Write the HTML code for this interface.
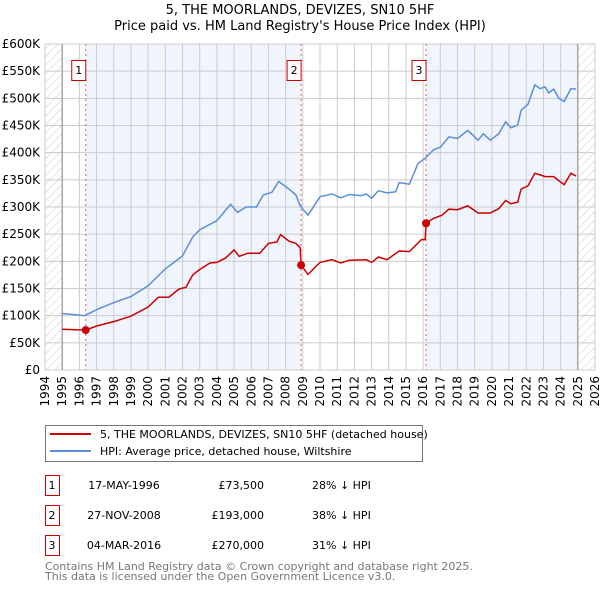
<!DOCTYPE html>
<html><head><meta charset="utf-8"><style>
body{margin:0;background:#fff;width:600px;height:590px;overflow:hidden}
text{font-family:"DejaVu Sans","Liberation Sans",sans-serif}
</style></head><body>
<svg width="600" height="590">
<defs><pattern id="hatch" width="6" height="6" patternUnits="userSpaceOnUse" patternTransform="rotate(45)"><line x1="0" y1="0" x2="0" y2="6" stroke="#ccc" stroke-width="1"/></pattern></defs>
<text x="300" y="14" text-anchor="middle" font-size="13">5, THE MOORLANDS, DEVIZES, SN10 5HF</text>
<text x="300" y="30" text-anchor="middle" font-size="13">Price paid vs. HM Land Registry's House Price Index (HPI)</text>
<g id="plot"></g>
<g id="legend">
<rect x="45.5" y="425.5" width="377" height="36" fill="#fff" stroke="#777"/>
<line x1="50" y1="434" x2="91" y2="434" stroke="#cc0000" stroke-width="2"/>
<text x="100" y="438" font-size="11">5, THE MOORLANDS, DEVIZES, SN10 5HF (detached house)</text>
<line x1="50" y1="451" x2="91" y2="451" stroke="#5b8fd6" stroke-width="2"/>
<text x="100" y="455" font-size="11">HPI: Average price, detached house, Wiltshire</text>
</g>
<g id="table" font-size="11"></g>
<text x="45" y="570" font-size="11" fill="#777">Contains HM Land Registry data © Crown copyright and database right 2025.</text>
<text x="45" y="580" font-size="11" fill="#777">This data is licensed under the Open Government Licence v3.0.</text>
</svg>
<script>
const yTicks=[0,50,100,150,200,250,300,350,400,450,500,550,600];
const yTickLabels=["£0","£50K","£100K","£150K","£200K","£250K","£300K","£350K","£400K","£450K","£500K","£550K","£600K"];
const xYears=[1994,1995,1996,1997,1998,1999,2000,2001,2002,2003,2004,2005,2006,2007,2008,2009,2010,2011,2012,2013,2014,2015,2016,2017,2018,2019,2020,2021,2022,2023,2024,2025,2026];
const hpiT=[1995.0,1996.0,1996.3,1997,1998,1999,2000,2001,2002,2002.6,2003,2004,2004.8,2005.2,2005.7,2006.3,2006.7,2007.2,2007.6,2008.2,2008.6,2008.85,2009.3,2010,2010.7,2011.2,2011.7,2012.4,2012.7,2013,2013.4,2013.9,2014.4,2014.6,2015.2,2015.7,2016.1,2016.6,2017,2017.5,2018,2018.6,2019.2,2019.5,2019.9,2020.4,2020.8,2021.1,2021.5,2021.7,2022.1,2022.5,2022.8,2023.1,2023.3,2023.6,2023.9,2024.2,2024.6,2024.9];
const hpiV=[104,101,100,111,124,135,155,186,210,245,258,275,305,290,300,300,322,327,347,333,322,302,285,319,324,317,323,321,324,316,330,326,328,345,342,380,389,405,410,429,426,441,423,435,423,435,457,446,451,478,489,525,518,521,510,517,500,494,518,517];
const ppT=[1995,1996.37,1997,1998,1999,2000,2000.6,2001.2,2001.8,2002.2,2002.6,2003,2003.6,2004,2004.5,2005,2005.3,2005.8,2006.5,2007,2007.5,2007.7,2008.2,2008.6,2008.85,2008.9,2009.3,2010,2010.7,2011.2,2011.7,2012.7,2013,2013.4,2013.9,2014.6,2015.2,2015.9,2016.12,2016.17,2016.6,2017.1,2017.5,2018,2018.6,2019.2,2019.9,2020.4,2020.8,2021.1,2021.5,2021.7,2022.1,2022.5,2022.8,2023.1,2023.6,2024.2,2024.6,2024.9];
const ppV=[75,73.5,81,89,99,116,134,134,149,152,175,185,197,198,206,221,209,215,215,233,236,249,237,233,225,193,176,198,203,197,202,203,198,208,203,219,218,240,240,270,279,285,296,295,302,289,289,297,312,306,309,333,339,362,359,356,356,341,362,357];
const saleT=[1996.37,2008.9,2016.17];
const saleV=[73.5,193,270];
const saleLabels=["1","2","3"];
const saleDates=["17-MAY-1996","27-NOV-2008","04-MAR-2016"];
const salePrices=["£73,500","£193,000","£270,000"];
const saleHpi=["28% ↓ HPI","38% ↓ HPI","31% ↓ HPI"];

const L=45,R=595,T=44,B=370;
const xs=t=>L+(t-1994)/32*(R-L);
const ys=v=>B-v/600*(B-T);
const NS="http://www.w3.org/2000/svg";
function mk(p,tag,at){const e=document.createElementNS(NS,tag);for(const k in at)e.setAttribute(k,at[k]);p.appendChild(e);return e;}
const g=document.getElementById('plot');
// shading
const sh1=mk(g,'rect',{x:xs(saleT[0]),y:T,width:xs(saleT[1])-xs(saleT[0]),height:B-T,fill:'#f0f4fc'});


const sh2=mk(g,'rect',{x:xs(saleT[2]),y:T,width:xs(2025)-xs(saleT[2]),height:B-T,fill:'#f0f4fc'});


const h1=mk(g,'rect',{x:L,y:T,width:xs(1995)-L,height:B-T,fill:'url(#hatch)'});


const h2=mk(g,'rect',{x:xs(2025),y:T,width:R-xs(2025),height:B-T,fill:'url(#hatch)'});


// grid
xYears.forEach(y=>{const l=mk(g,'line',{x1:xs(y),x2:xs(y),y1:T,y2:B,stroke:'#ccc'});


const tx=mk(g,'text',{x:0,y:0,'font-size':12,'text-anchor':'end',transform:`translate(${xs(y)+4},${B+6}) rotate(-90)`});tx.textContent=y;

});
yTicks.forEach((v,i)=>{const l=mk(g,'line',{x1:L,x2:R,y1:ys(v),y2:ys(v),stroke:'#ccc'});


const tx=mk(g,'text',{x:40,y:ys(v)+4,'font-size':12,'text-anchor':'end'});tx.textContent=yTickLabels[i];

});
[1995,2025].forEach(y=>{const l=mk(g,'line',{x1:xs(y),x2:xs(y),y1:T,y2:B,stroke:'#888'});

});
// sale markers
saleT.forEach((t,i)=>{const l=mk(g,'line',{x1:xs(t),x2:xs(t),y1:T,y2:B,stroke:'#e06060','stroke-dasharray':'2,3'});


const b=mk(g,'rect',{x:xs(t)-14,y:60.5,width:14,height:20,fill:'#fff',stroke:'#cc0000'});


const tx=mk(g,'text',{x:xs(t)-7,y:74,'font-size':11,'text-anchor':'middle'});tx.textContent=saleLabels[i];

});
const pts=(T_,V_)=>T_.map((t,i)=>xs(t).toFixed(1)+','+ys(V_[i]).toFixed(1)).join(' ');
const hl=mk(g,'polyline',{points:pts(hpiT,hpiV),fill:'none',stroke:'#5b8fd6','stroke-width':1.5});


const pl=mk(g,'polyline',{points:pts(ppT,ppV),fill:'none',stroke:'#cc0000','stroke-width':1.5});


saleT.forEach((t,i)=>{const c=mk(g,'circle',{cx:xs(t),cy:ys(saleV[i]),r:4,fill:'#cc0000'});

});
// table
const tb=document.getElementById('table');
saleT.forEach((t,i)=>{const y0=475+i*30;
const b=mk(tb,'rect',{x:45.5,y:y0+0.5,width:14,height:20,fill:'#fff',stroke:'#cc0000'});


const cells=[[52,'middle',saleLabels[i]],[124,'middle',saleDates[i]],[264,'end',salePrices[i]],[312,'start',saleHpi[i]]];
cells.forEach(c=>{const tx=mk(tb,'text',{x:c[0],y:y0+14,'text-anchor':c[1]});tx.textContent=c[2];

});});
</script>
</body></html>
